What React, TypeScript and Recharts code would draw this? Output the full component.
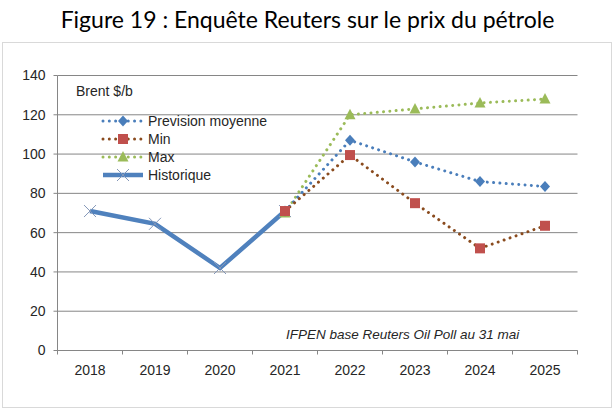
import React from 'react';
import { LineChart, Line, XAxis, YAxis, CartesianGrid } from 'recharts';

const years = ['2018', '2019', '2020', '2021', '2022', '2023', '2024', '2025'];
const historique = [71, 64.5, 42, 71, null, null, null, null];
const prevision = [null, null, null, 71, 107, 96, 86, 83.5];
const minimum = [null, null, null, 71, 99.5, 75, 52, 63.5];
const maximum = [null, null, null, 70, 120, 123, 126, 128];
const yTicks = [0, 20, 40, 60, 80, 100, 120, 140];

const data = years.map((y, i) => ({
  x: i + 0.5,
  year: y,
  hist: historique[i],
  prev: prevision[i],
  min: minimum[i],
  max: maximum[i],
}));

const xTicks: number[] = [];
for (let i = 0; i <= years.length * 2; i++) xTicks.push(i / 2);

const FONT = '"Liberation Sans", Arial, sans-serif';
const AXIS = '#868686';
const TEXT = '#262626';

const C_PREV = '#4A7EBB';
const C_MIN_LINE = '#8A4B1E';
const C_MIN = '#C0504D';
const C_MAX_LINE = '#9BBB59';
const C_MAX = '#9BBB59';
const C_HIST = '#4F81BD';
const C_HIST_X = '#8497B8';

const Diamond = (cx: number, cy: number, key?: any) => (
  <polygon key={key} points={`${cx},${cy - 5.5} ${cx + 5},${cy} ${cx},${cy + 5.5} ${cx - 5},${cy}`} fill={C_PREV} />
);
const Square = (cx: number, cy: number, key?: any) => (
  <rect key={key} x={cx - 5} y={cy - 5} width={10} height={10} fill={C_MIN} />
);
const Triangle = (cx: number, cy: number, key?: any) => (
  <polygon key={key} points={`${cx},${cy - 6} ${cx + 5.5},${cy + 4.5} ${cx - 5.5},${cy + 4.5}`} fill={C_MAX} />
);
const Cross = (cx: number, cy: number, key?: any) => (
  <g key={key}>
    <line x1={cx - 6} y1={cy - 6} x2={cx + 6} y2={cy + 6} stroke={C_HIST_X} strokeWidth={1} />
    <line x1={cx - 6} y1={cy + 6} x2={cx + 6} y2={cy - 6} stroke={C_HIST_X} strokeWidth={1} />
  </g>
);

const mkDot = (fn: (cx: number, cy: number, key?: any) => any) => (props: any) => {
  const { cx, cy, value, index } = props;
  if (value == null || cx == null || cy == null) return <g key={`e${index}`} />;
  return fn(cx, cy, `d${index}`);
};

const XTick = (props: any) => {
  const { x, y, payload } = props;
  const v = payload.value as number;
  if (Number.isInteger(v)) {
    return <line x1={x} y1={y} x2={x} y2={y + 4} stroke={AXIS} strokeWidth={1} />;
  }
  const label = years[Math.floor(v)];
  return (
    <text x={x} y={y + 24.5} textAnchor="middle" fontSize={14} fill={TEXT} fontFamily={FONT}>
      {label}
    </text>
  );
};

const legendItems = [
  { name: 'Prevision moyenne', color: C_PREV, dash: true, marker: Diamond, width: 3 },
  { name: 'Min', color: C_MIN_LINE, dash: true, marker: Square, width: 3 },
  { name: 'Max', color: C_MAX_LINE, dash: true, marker: Triangle, width: 3 },
  { name: 'Historique', color: C_HIST, dash: false, marker: Cross, width: 4.5 },
];

export default function App() {
  return (
    <div style={{ position: 'absolute', left: 0, top: 0, width: 615, height: 412, background: '#fff', fontFamily: FONT }}>
      <div
        style={{
          position: 'absolute', left: 0, top: 4, width: 615, textAlign: 'center',
          fontFamily: 'Lato, sans-serif', fontSize: 23, color: '#000', lineHeight: '30px',
        }}
      >
        Figure 19 : Enquête Reuters sur le prix du pétrole
      </div>
      <div style={{ position: 'absolute', left: 2, top: 42, width: 608, height: 364, border: '1px solid #D9D9D9' }} />
      <div style={{ position: 'absolute', left: 0, top: 0 }}>
        <LineChart width={615} height={412} data={data} margin={{ top: 75.5, right: 37.5, bottom: 31.5, left: 0 }}>
          <CartesianGrid vertical={false} stroke={AXIS} strokeWidth={1} />
          <XAxis
            dataKey="x"
            type="number"
            domain={[0, years.length]}
            ticks={xTicks}
            interval={0}
            tickLine={false}
            tickSize={0}
            tickMargin={0}
            tick={<XTick />}
            axisLine={{ stroke: AXIS }}
            height={30}
            allowDecimals
          />
          <YAxis
            domain={[0, 140]}
            ticks={yTicks}
            interval={0}
            width={57.5}
            tickSize={4}
            tickMargin={8}
            tickLine={{ stroke: AXIS }}
            axisLine={{ stroke: AXIS }}
            tick={{ fontSize: 14, fill: TEXT, fontFamily: FONT }}
          />
          <Line
            dataKey="hist" name="Historique" type="linear" stroke={C_HIST} strokeWidth={4.5}
            dot={mkDot(Cross)} activeDot={false} isAnimationActive={false} connectNulls={false}
          />
          <Line
            dataKey="max" name="Max" type="linear" stroke={C_MAX_LINE} strokeWidth={3}
            strokeDasharray="0.01 6.3" strokeLinecap="round"
            dot={mkDot(Triangle)} activeDot={false} isAnimationActive={false}
          />
          <Line
            dataKey="prev" name="Prevision moyenne" type="linear" stroke={C_PREV} strokeWidth={3}
            strokeDasharray="0.01 6.3" strokeLinecap="round"
            dot={mkDot(Diamond)} activeDot={false} isAnimationActive={false}
          />
          <Line
            dataKey="min" name="Min" type="linear" stroke={C_MIN_LINE} strokeWidth={3}
            strokeDasharray="0.01 6.3" strokeLinecap="round"
            dot={mkDot(Square)} activeDot={false} isAnimationActive={false}
          />
        </LineChart>
      </div>
      <div style={{ position: 'absolute', left: 76, top: 82, fontSize: 14, color: TEXT, lineHeight: '18px' }}>
        Brent $/b
      </div>
      <div style={{ position: 'absolute', left: 100, top: 112 }}>
        {legendItems.map((it) => (
          <div key={it.name} style={{ display: 'flex', alignItems: 'center', height: 18 }}>
            <svg width={46} height={18} style={{ display: 'block' }}>
              <line
                x1={3} y1={9} x2={43} y2={9} stroke={it.color} strokeWidth={it.width}
                strokeDasharray={it.dash ? '0.01 6.3' : undefined} strokeLinecap={it.dash ? 'round' : 'butt'}
              />
              {it.marker(23, 9)}
            </svg>
            <span style={{ marginLeft: 2, fontSize: 14, color: TEXT, lineHeight: '18px', whiteSpace: 'nowrap' }}>{it.name}</span>
          </div>
        ))}
      </div>
      <div
        style={{
          position: 'absolute', left: 286, top: 326, fontSize: 13.5, fontStyle: 'italic',
          color: TEXT, lineHeight: '18px', whiteSpace: 'nowrap',
        }}
      >
        IFPEN base Reuters Oil Poll au 31 mai
      </div>
    </div>
  );
}
